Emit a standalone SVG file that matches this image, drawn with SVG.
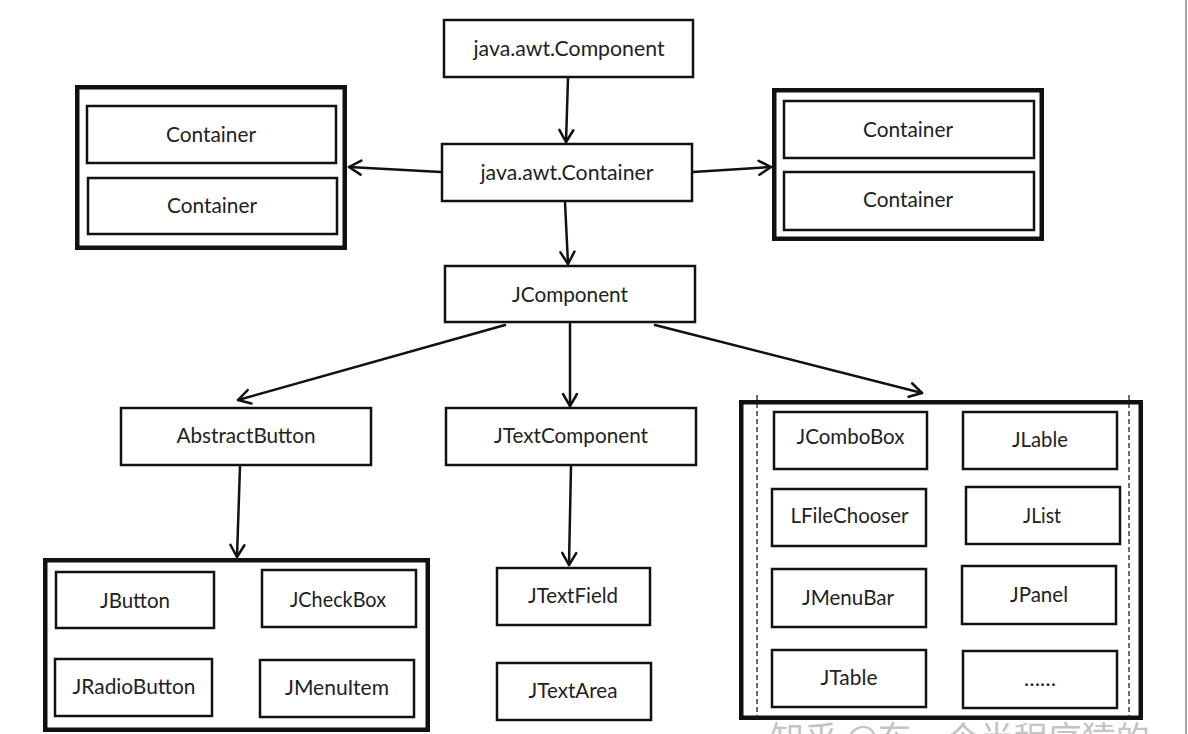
<svg xmlns="http://www.w3.org/2000/svg" width="1188" height="734" viewBox="0 0 1188 734">
<style>
.n{fill:#fff;stroke:#111;stroke-width:2.5}
.g{fill:#fff;stroke:#111;stroke-width:4.5}
.t{font-family:Lato,"Noto Sans","Liberation Sans",sans-serif;font-size:20.5px;fill:#222;text-anchor:middle}
.c{fill:none;stroke:#111;stroke-width:2.5;stroke-linecap:round}
.d{fill:none;stroke:#222;stroke-width:1.3;stroke-dasharray:5 3}
.w{font-family:"Noto Sans CJK SC",sans-serif;font-size:34px;fill:#c4c4c4}
</style>
<defs>
<marker id="arr" viewBox="0 0 14 16" refX="13" refY="8" markerWidth="14" markerHeight="16" markerUnits="userSpaceOnUse" orient="auto" overflow="visible">
<path d="M1,1 L13,8 L1,15" fill="none" stroke="#111" stroke-width="2.5" stroke-linecap="round" stroke-linejoin="round"/>
</marker>
</defs>
<rect width="1188" height="734" fill="#fff"/>
<line x1="1186" y1="0" x2="1186" y2="734" stroke="#8a8a8a" stroke-width="1.5"/>

<g id="awt-component"><rect class="n" x="444" y="20" width="249" height="57"/><text class="t" x="569" y="56" textLength="191" lengthAdjust="spacingAndGlyphs">java.awt.Component</text></g>
<g id="awt-container"><rect class="n" x="442" y="144" width="250" height="57"/><text class="t" x="567" y="180" textLength="173" lengthAdjust="spacingAndGlyphs">java.awt.Container</text></g>
<g id="jcomponent"><rect class="n" x="445" y="266" width="250" height="56"/><text class="t" x="570" y="302" textLength="116" lengthAdjust="spacingAndGlyphs">JComponent</text></g>

<g id="left-containers">
<rect class="g" x="77.25" y="87.25" width="267.5" height="160.5"/>
<g id="left-container-1"><rect class="n" x="87" y="106" width="249" height="57"/><text class="t" x="211" y="142" textLength="90" lengthAdjust="spacingAndGlyphs">Container</text></g>
<g id="left-container-2"><rect class="n" x="88" y="178" width="249" height="56"/><text class="t" x="212" y="213" textLength="90" lengthAdjust="spacingAndGlyphs">Container</text></g>
</g>

<g id="right-containers">
<rect class="g" x="774.25" y="90.25" width="267.5" height="148.5"/>
<g id="right-container-1"><rect class="n" x="784" y="101" width="250" height="57"/><text class="t" x="908" y="137" textLength="90" lengthAdjust="spacingAndGlyphs">Container</text></g>
<g id="right-container-2"><rect class="n" x="784" y="172" width="250" height="58"/><text class="t" x="908" y="207" textLength="90" lengthAdjust="spacingAndGlyphs">Container</text></g>
</g>

<g id="abstractbutton"><rect class="n" x="121" y="408" width="250" height="57"/><text class="t" x="246" y="443" textLength="139" lengthAdjust="spacingAndGlyphs">AbstractButton</text></g>
<g id="jtextcomponent"><rect class="n" x="446" y="408" width="250" height="57"/><text class="t" x="571" y="443" textLength="154" lengthAdjust="spacingAndGlyphs">JTextComponent</text></g>
<g id="jtextfield"><rect class="n" x="497" y="568" width="153" height="57"/><text class="t" x="573" y="603" textLength="90" lengthAdjust="spacingAndGlyphs">JTextField</text></g>
<g id="jtextarea"><rect class="n" x="497" y="663" width="154" height="57"/><text class="t" x="573" y="698" textLength="89" lengthAdjust="spacingAndGlyphs">JTextArea</text></g>

<g id="button-group">
<rect class="g" x="45.25" y="560.25" width="382.5" height="169.5"/>
<g id="jbutton"><rect class="n" x="56" y="572" width="158" height="56"/><text class="t" x="135" y="608" textLength="70" lengthAdjust="spacingAndGlyphs">JButton</text></g>
<g id="jcheckbox"><rect class="n" x="262" y="570" width="154" height="57"/><text class="t" x="338" y="607" textLength="96" lengthAdjust="spacingAndGlyphs">JCheckBox</text></g>
<g id="jradiobutton"><rect class="n" x="55" y="659" width="157" height="57"/><text class="t" x="134" y="694" textLength="123" lengthAdjust="spacingAndGlyphs">JRadioButton</text></g>
<g id="jmenuitem"><rect class="n" x="260" y="660" width="154" height="57"/><text class="t" x="337" y="695" textLength="104" lengthAdjust="spacingAndGlyphs">JMenuItem</text></g>
</g>

<g id="component-group">
<rect class="g" x="741.25" y="402.25" width="399.5" height="315.5"/>
<line class="d" x1="757" y1="395" x2="757" y2="718"/>
<line class="d" x1="1129" y1="395" x2="1129" y2="718"/>
<g id="jcombobox"><rect class="n" x="774" y="412" width="153" height="57"/><text class="t" x="850.5" y="444" textLength="108" lengthAdjust="spacingAndGlyphs">JComboBox</text></g>
<g id="jlable"><rect class="n" x="963" y="412" width="154" height="57"/><text class="t" x="1040" y="447" textLength="56" lengthAdjust="spacingAndGlyphs">JLable</text></g>
<g id="lfilechooser"><rect class="n" x="772" y="489" width="154" height="57"/><text class="t" x="849.5" y="523" textLength="118" lengthAdjust="spacingAndGlyphs">LFileChooser</text></g>
<g id="jlist"><rect class="n" x="966" y="487" width="154" height="57"/><text class="t" x="1042" y="523" textLength="38" lengthAdjust="spacingAndGlyphs">JList</text></g>
<g id="jmenubar"><rect class="n" x="772" y="569" width="154" height="58"/><text class="t" x="848" y="605" textLength="92" lengthAdjust="spacingAndGlyphs">JMenuBar</text></g>
<g id="jpanel"><rect class="n" x="962" y="566" width="154" height="58"/><text class="t" x="1039" y="602" textLength="58" lengthAdjust="spacingAndGlyphs">JPanel</text></g>
<g id="jtable"><rect class="n" x="772" y="650" width="154" height="57"/><text class="t" x="849" y="685" textLength="57" lengthAdjust="spacingAndGlyphs">JTable</text></g>
<g id="more"><rect class="n" x="963" y="651" width="154" height="57"/><text class="t" x="1040" y="686" textLength="32" lengthAdjust="spacingAndGlyphs">……</text></g>
</g>

<g id="connectors">
<line class="c" x1="568" y1="78" x2="566" y2="142" marker-end="url(#arr)"/>
<line class="c" x1="565" y1="202" x2="568" y2="264" marker-end="url(#arr)"/>
<line class="c" x1="441" y1="172" x2="349" y2="167" marker-end="url(#arr)"/>
<line class="c" x1="693" y1="172" x2="771" y2="167" marker-end="url(#arr)"/>
<line class="c" x1="505" y1="325" x2="238" y2="400" marker-end="url(#arr)"/>
<line class="c" x1="570" y1="324" x2="570" y2="406" marker-end="url(#arr)"/>
<line class="c" x1="655" y1="325" x2="922" y2="393" marker-end="url(#arr)"/>
<line class="c" x1="240" y1="466" x2="237" y2="557" marker-end="url(#arr)"/>
<line class="c" x1="571" y1="466" x2="569" y2="565" marker-end="url(#arr)"/>
</g>

<text class="w" x="770" y="751">知乎 @东一个半程序猿的</text>
</svg>
